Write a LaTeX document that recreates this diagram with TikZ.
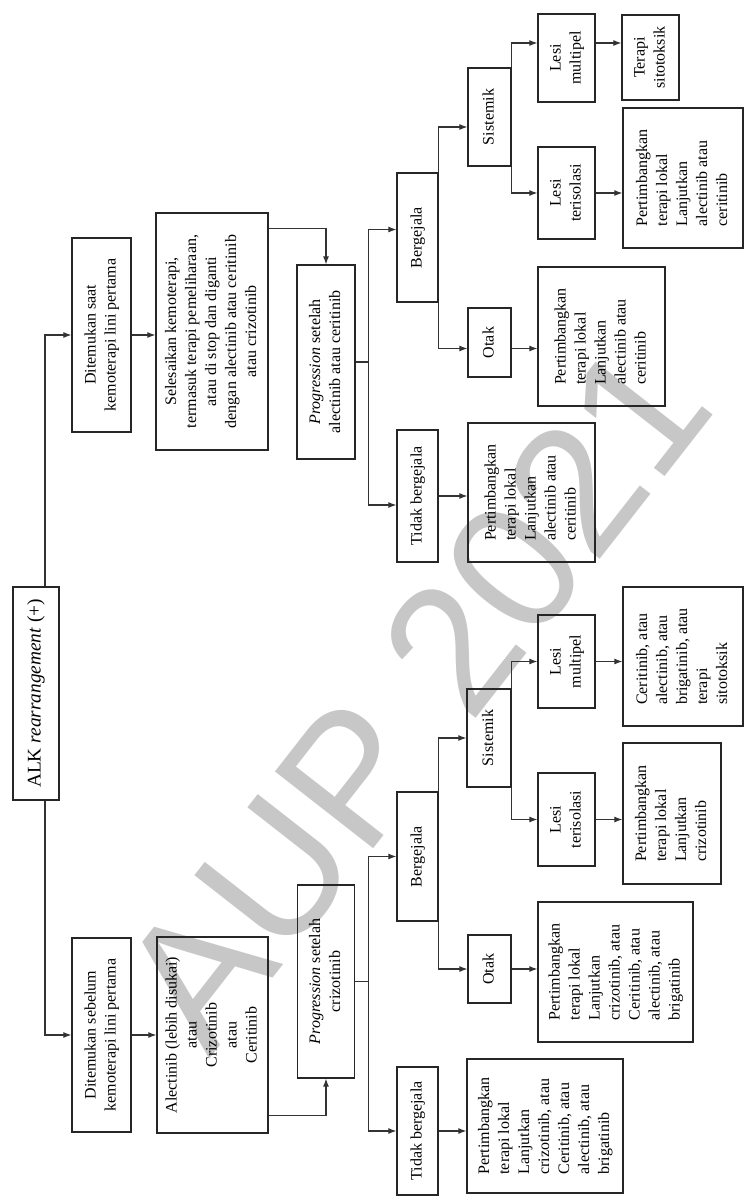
\documentclass[tikz,border=0pt]{standalone}
\usepackage{fontspec}
\usepackage{graphicx}
\setmainfont{Liberation Serif}
\newfontfamily\wmfont{Liberation Sans}
\usetikzlibrary{arrows.meta,calc}
\newcommand\rtxt[2]{\rotatebox{90}{\begin{tabular}{@{}#1@{}}#2\end{tabular}}}
\begin{document}
\begin{tikzpicture}[x=0.75pt,y=-0.75pt,
  box/.style={draw=black!85, line width=1pt, inner sep=0pt, align=center, font=\fontsize{12}{15}\selectfont},
  sz/.style 2 args={minimum width=#1*0.75pt, minimum height=#2*0.75pt},
  arr/.style={draw=black!80, line width=0.8pt, -{Latex[length=6pt,width=4.5pt]}},
  ln/.style={draw=black!80, line width=0.8pt},
  wm/.style={text=black!22, font=\wmfont\fontsize{136}{136}\selectfont, rotate=52, inner sep=0pt}]
\useasboundingbox (0,0) rectangle (745,1197);
\node[wm] (wmk) at (415,695) {AUP 2021};

% root and first levels
\node[box, sz={46}{213}, font=\fontsize{14.5}{17}\selectfont] (root) at (36,693.5) {\rtxt{c}{ALK \textit{rearrangement} (+)}};
\node[box, sz={59}{194}] (d1T) at (101.5,335) {\rtxt{c}{Ditemukan saat\\kemoterapi lini pertama}};
\node[box, sz={112}{237}] (d2T) at (212,331.5) {\rtxt{c}{Selesaikan kemoterapi,\\termasuk terapi pemeliharaan,\\atau di stop dan diganti\\dengan alectinib atau ceritinib\\atau crizotinib}};
\node[box, sz={59}{194}] (d1B) at (101.5,1035) {\rtxt{c}{Ditemukan sebelum\\kemoterapi lini pertama}};
\node[box, sz={111}{196}] (d2B) at (212.5,1035) {\rtxt{c}{Alectinib (lebih disukai)\\atau\\Crizotinib\\atau\\Ceritinib}};
\node[box, sz={58}{194}] (p3T) at (326,362) {\rtxt{c}{\textit{Progression} setelah\\alectinib atau ceritinib}};
\node[box, sz={57}{193}] (p3B) at (326,981.5) {\rtxt{c}{\textit{Progression} setelah\\crizotinib}};

% upper half
\node[box, sz={41}{129}] (bergT) at (417.5,237.5) {\rtxt{c}{Bergejala}};
\node[box, sz={41}{132}] (tidakT) at (417.5,496) {\rtxt{c}{Tidak bergejala}};
\node[box, sz={43}{98}] (sisT) at (489.5,117) {\rtxt{c}{Sistemik}};
\node[box, sz={43}{69}] (otakT) at (489.5,342.5) {\rtxt{c}{Otak}};
\node[box, sz={57}{88}] (lmT) at (566.5,58) {\rtxt{c}{Lesi\\multipel}};
\node[box, sz={57}{85}] (terT) at (650.5,57.5) {\rtxt{c}{Terapi\\sitotoksik}};
\node[box, sz={57}{92}] (ltT) at (566.5,193) {\rtxt{c}{Lesi\\terisolasi}};
\node[box, sz={120}{140}] (pT1) at (683,178) {\rtxt{l}{Pertimbangkan\\terapi lokal\\Lanjutkan\\alectinib atau\\ceritinib}};
\node[box, sz={127}{139}] (pT2) at (601.5,336.5) {\rtxt{l}{Pertimbangkan\\terapi lokal\\Lanjutkan\\alectinib atau\\ceritinib}};
\node[box, sz={127}{139}] (pT3) at (531.5,492.5) {\rtxt{l}{Pertimbangkan\\terapi lokal\\Lanjutkan\\alectinib atau\\ceritinib}};

% lower half
\node[box, sz={41}{129}] (bergB) at (417.5,856.5) {\rtxt{c}{Bergejala}};
\node[box, sz={41}{128}] (tidakB) at (417.5,1131) {\rtxt{c}{Tidak bergejala}};
\node[box, sz={44}{98}] (sisB) at (489,738) {\rtxt{c}{Sistemik}};
\node[box, sz={43}{68}] (otakB) at (489.5,969) {\rtxt{c}{Otak}};
\node[box, sz={57}{93}] (lmB) at (566.5,661.5) {\rtxt{c}{Lesi\\multipel}};
\node[box, sz={57}{93}] (ltB) at (566.5,819.5) {\rtxt{c}{Lesi\\terisolasi}};
\node[box, sz={120}{139}] (pB1) at (683,656.5) {\rtxt{l}{Ceritinib, atau\\alectinib, atau\\brigatinib, atau\\terapi\\sitotoksik}};
\node[box, sz={98}{141}] (pB2) at (672,813.5) {\rtxt{l}{Pertimbangkan\\terapi lokal\\Lanjutkan\\crizotinib}};
\node[box, sz={155}{140}] (pB4) at (615.5,972) {\rtxt{l}{Pertimbangkan\\terapi lokal\\Lanjutkan\\crizotinib, atau\\Ceritinib, atau\\alectinib, atau\\brigatinib}};
\node[box, sz={156}{134}] (pB3) at (545,1126) {\rtxt{l}{Pertimbangkan\\terapi lokal\\Lanjutkan\\crizotinib, atau\\Ceritinib, atau\\alectinib, atau\\brigatinib}};

% connectors
\draw[arr] ($(root.north)+(9,0)$) |- (d1T.west);
\draw[arr] ($(root.south)+(9,0)$) |- (d1B.west);
\draw[arr] (d1T.east) -- (d1T.east -| d2T.west);
\draw[arr] (d1B.east) -- (d1B.east -| d2B.west);
\draw[arr] ($(d2T.north east)+(0,16)$) -| (p3T.north);
\draw[arr] ($(d2B.south east)+(0,-18)$) -| (p3B.south);

\coordinate (jT) at ($(p3T.east)+(13,0)$);
\draw[ln] (p3T.east) -- (jT);
\draw[arr] (jT) |- ($(bergT.west)+(0,-8)$);
\draw[arr] (jT) |- ($(tidakT.west)+(0,9)$);
\draw[arr] (bergT.north east) |- ($(sisT.west)+(0,10)$);
\draw[arr] (bergT.south east) |- ($(otakT.west)+(0,6)$);
\draw[arr] (sisT.north east) |- ($(lmT.west)+(0,-15)$);
\draw[arr] (sisT.south east) |- (ltT.west);
\coordinate (lmTo) at ($(lmT.east)+(0,-15)$);
\draw[arr] (lmTo) -- (lmTo -| terT.west);
\draw[arr] (ltT.east) -- (ltT.east -| pT1.west);
\coordinate (otTo) at ($(otakT.east)+(0,6)$);
\draw[arr] (otTo) -- (otTo -| pT2.west);
\draw[arr] (tidakT.east) -- (tidakT.east -| pT3.west);

\coordinate (jB) at ($(p3B.east)+(13,0)$);
\draw[ln] (p3B.east) -- (jB);
\draw[arr] (jB) |- (bergB.west);
\draw[arr] (jB) |- (tidakB.west);
\draw[arr] (bergB.north east) |- (sisB.west);
\draw[arr] (bergB.south east) |- (otakB.west);
\draw[arr] (sisB.north east) |- (lmB.west);
\draw[arr] (sisB.south east) |- (ltB.west);
\draw[arr] (lmB.east) -- (lmB.east -| pB1.west);
\draw[arr] (ltB.east) -- (ltB.east -| pB2.west);
\draw[arr] (otakB.east) -- (otakB.east -| pB4.west);
\draw[arr] (tidakB.east) -- (tidakB.east -| pB3.west);
\end{tikzpicture}
\end{document}
